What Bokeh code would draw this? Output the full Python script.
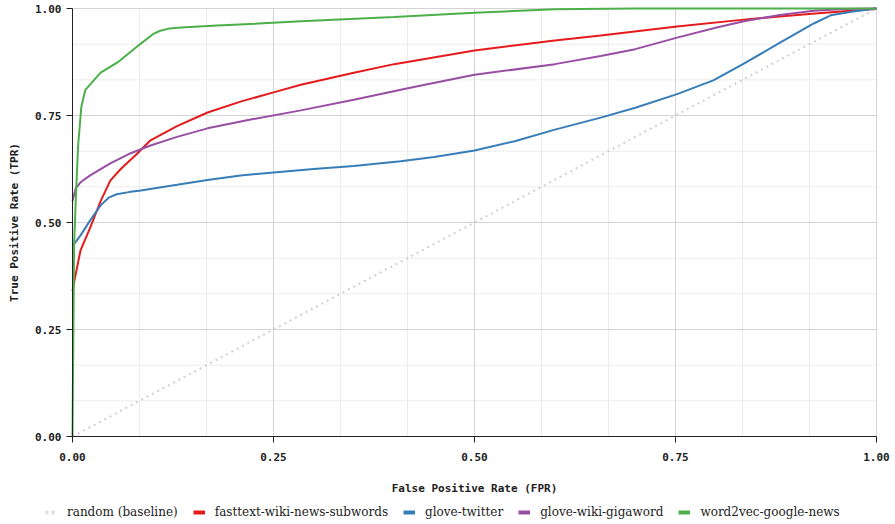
from bokeh.plotting import figure
from bokeh.models import Range1d, FixedTicker, Legend, LegendItem, NumeralTickFormatter
from bokeh.embed import file_html
from bokeh.resources import INLINE

# ---- data ----
baseline_fpr = [0.0, 1.0]
baseline_tpr = [0.0, 1.0]

fasttext_fpr = [0.0, 0.003, 0.01, 0.022, 0.035, 0.047, 0.06, 0.08, 0.097, 0.13, 0.168, 0.21, 0.25, 0.284,
                0.35, 0.4, 0.5, 0.6, 0.657, 0.752, 0.835, 0.92, 0.993, 1.0]
fasttext_tpr = [0.34, 0.37, 0.435, 0.488, 0.55, 0.598, 0.625, 0.66, 0.692, 0.725, 0.757, 0.783, 0.804, 0.822,
                0.85, 0.87, 0.902, 0.925, 0.937, 0.958, 0.974, 0.988, 0.998, 1.0]

twitter_fpr = [0.0, 0.01, 0.022, 0.035, 0.045, 0.055, 0.07, 0.085, 0.13, 0.17, 0.209, 0.25, 0.3, 0.35, 0.408,
               0.45, 0.5, 0.55, 0.6, 0.657, 0.7, 0.752, 0.797, 0.835, 0.88, 0.922, 0.943, 0.971, 1.0]
twitter_tpr = [0.445, 0.47, 0.505, 0.54, 0.558, 0.566, 0.571, 0.575, 0.588, 0.6, 0.61, 0.617, 0.625, 0.632, 0.643,
               0.653, 0.668, 0.69, 0.717, 0.745, 0.768, 0.8, 0.832, 0.871, 0.92, 0.965, 0.984, 0.993, 1.0]

gigaword_fpr = [0.0, 0.004, 0.01, 0.022, 0.047, 0.07, 0.097, 0.13, 0.168, 0.22, 0.284, 0.35, 0.42, 0.5,
                0.6, 0.657, 0.7, 0.752, 0.8, 0.835, 0.88, 0.922, 0.96, 1.0]
gigaword_tpr = [0.55, 0.58, 0.594, 0.61, 0.638, 0.66, 0.68, 0.7, 0.72, 0.74, 0.762, 0.787, 0.815, 0.845,
                0.87, 0.889, 0.905, 0.932, 0.955, 0.97, 0.985, 0.995, 0.999, 1.0]

word2vec_fpr = [0.0, 0.002, 0.004, 0.007, 0.011, 0.016, 0.035, 0.056, 0.085, 0.1, 0.109, 0.12, 0.14, 0.18, 0.284,
                0.4, 0.5, 0.6, 0.7, 1.0]
word2vec_tpr = [0.0, 0.45, 0.55, 0.68, 0.77, 0.81, 0.85, 0.874, 0.918, 0.94, 0.948, 0.953, 0.956, 0.96, 0.97,
                0.98, 0.99, 0.998, 1.0, 1.0]

major_ticks = [0.0, 0.25, 0.5, 0.75, 1.0]
minor_ticks = [i / 12 for i in range(13)]

series = [
    ("fasttext-wiki-news-subwords", fasttext_fpr, fasttext_tpr, "#e41a1c"),
    ("glove-twitter", twitter_fpr, twitter_tpr, "#377eb8"),
    ("glove-wiki-gigaword", gigaword_fpr, gigaword_tpr, "#984ea3"),
    ("word2vec-google-news", word2vec_fpr, word2vec_tpr, "#4daf4a"),
]

# canvas geometry: plot box (0..1) sits at x 72..876, y 8..436 of a 895x524 canvas
W, H = 895, 524
L, R, T, B = 72, 876, 8, 436
sx = (R - L)
sy = (B - T)
x_range = Range1d(-L / sx, 1 + (W - R) / sx)
y_range = Range1d(-(H - B) / sy, 1 + T / sy)

p = figure(width=W, height=H, x_range=x_range, y_range=y_range,
           output_backend="svg", toolbar_location=None,
           min_border_left=0, min_border_right=0, min_border_top=0, min_border_bottom=0)
p.outline_line_color = None
p.background_fill_color = "white"
p.xgrid.visible = False
p.ygrid.visible = False

# grid lines limited to the unit box
minor_only = [t for t in minor_ticks if all(abs(t - m) > 1e-9 for m in major_ticks)]
p.segment(x0=minor_only, y0=[0] * len(minor_only), x1=minor_only, y1=[1] * len(minor_only),
          line_color="#ececec", line_width=1)
p.segment(x0=[0] * len(minor_only), y0=minor_only, x1=[1] * len(minor_only), y1=minor_only,
          line_color="#ececec", line_width=1)
p.segment(x0=major_ticks, y0=[0] * 5, x1=major_ticks, y1=[1] * 5, line_color="#d4d4d4", line_width=1)
p.segment(x0=[0] * 5, y0=major_ticks, x1=[1] * 5, y1=major_ticks, line_color="#d4d4d4", line_width=1)

for ax in (p.xaxis[0], p.yaxis[0]):
    ax.fixed_location = 0
    ax.bounds = (0, 1)
    ax.ticker = FixedTicker(ticks=major_ticks, minor_ticks=[])
    ax.formatter = NumeralTickFormatter(format="0.00")
    ax.major_label_text_font = "DejaVu Sans Mono"
    ax.major_label_text_font_style = "bold"
    ax.major_label_text_font_size = "11px"
    ax.major_label_text_color = "#222222"
    ax.axis_label_text_font = "DejaVu Sans Mono"
    ax.axis_label_text_font_style = "bold"
    ax.axis_label_text_font_size = "11px"
    ax.axis_label_text_color = "#222222"
    ax.axis_line_color = "#222222"
    ax.major_tick_line_color = "#222222"
    ax.major_tick_out = 6
    ax.major_tick_in = 0
    ax.minor_tick_out = 0
    ax.minor_tick_in = 0

p.xaxis.axis_label = "False Positive Rate (FPR)"
p.yaxis.axis_label = "True Positive Rate (TPR)"
p.xaxis.major_label_standoff = 10
p.xaxis.axis_label_standoff = 18
p.yaxis.axis_label_standoff = 11

# baseline
p.line(baseline_fpr, baseline_tpr, line_color="#d0d0d0", line_width=2, line_dash="2 4")
for name, xs, ys, c in series:
    p.line(xs, ys, line_color=c, line_width=2)

# ---- legend (thick swatches via proxy renderers that draw nothing in the plot) ----
nan = float("nan")
items = []
r = p.line([nan], [nan], line_color="#dddddd", line_width=4, line_dash="3 3")
items.append(LegendItem(label="random (baseline)", renderers=[r]))
for name, xs, ys, c in series:
    r = p.line([nan], [nan], line_color=c, line_width=4)
    items.append(LegendItem(label=name, renderers=[r]))

legend = Legend(items=items, orientation="horizontal", location=(45, 5),
                label_text_font="DejaVu Serif", label_text_font_size="12px",
                label_text_color="#222222", glyph_width=12, glyph_height=14,
                label_height=14, label_standoff=10, spacing=15, padding=0, margin=0,
                border_line_color=None, background_fill_alpha=0)
p.add_layout(legend, "center")

open("out.html", "w").write(file_html(p, INLINE))
